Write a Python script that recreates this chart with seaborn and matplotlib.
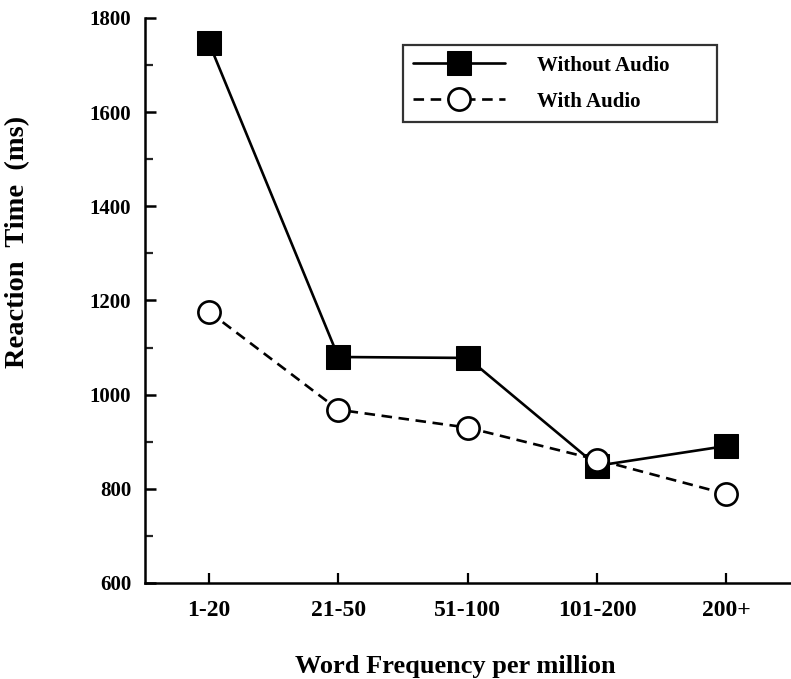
import matplotlib
matplotlib.use("Agg")
import matplotlib.pyplot as plt
import seaborn as sns
import numpy as np
import pandas as pd
from matplotlib.ticker import MultipleLocator

categories = ["1-20", "21-50", "51-100", "101-200", "200+"]
without_audio = [1747, 1080, 1078, 849, 891]
with_audio = [1176, 968, 930, 862, 789]
series_names = ["Without Audio", "With Audio"]

sns.set_theme(style="white")
plt.rcParams["font.family"] = ["Liberation Serif", "DejaVu Serif"]
plt.rcParams["font.weight"] = "bold"

pos = np.arange(len(categories))
df = pd.DataFrame({
    "pos": np.concatenate([pos, pos]),
    "rt": without_audio + with_audio,
    "series": [series_names[0]] * len(pos) + [series_names[1]] * len(pos),
})

W, H = 791, 679
fig = plt.figure(figsize=(W / 100, H / 100), dpi=100)
ax = fig.add_axes([145 / W, 96 / H, 646 / W, 565 / H])

d0 = df[df.series == series_names[0]]
d1 = df[df.series == series_names[1]]
sns.lineplot(data=d0, x="pos", y="rt", ax=ax, color="black", lw=1.9,
             marker="s", markersize=17.5, markerfacecolor="black",
             markeredgecolor="black", label=series_names[0])
sns.lineplot(data=d1, x="pos", y="rt", ax=ax, color="black", lw=1.9,
             linestyle=(0, (4, 2.5)), marker="o", markersize=16,
             markerfacecolor="white", markeredgecolor="black",
             markeredgewidth=1.9, label=series_names[1])

ax.set_xlim(-0.495, 4.5)
ax.set_ylim(600, 1800)
ax.set_xticks(pos)
ax.set_xticklabels(categories)
ax.yaxis.set_major_locator(MultipleLocator(200))
ax.yaxis.set_minor_locator(MultipleLocator(100))

for s in ["top", "right"]:
    ax.spines[s].set_visible(False)
for s in ["left", "bottom"]:
    ax.spines[s].set_linewidth(1.8)
    ax.spines[s].set_color("black")

ax.tick_params(axis="y", which="major", direction="in", length=8, width=1.8,
               labelsize=15, pad=10, left=True, colors="black")
ax.tick_params(axis="y", which="minor", direction="in", length=6, width=1.6, left=True)
ax.tick_params(axis="x", which="major", direction="in", length=7, width=1.6,
               labelsize=17, pad=12, bottom=True, colors="black")
for t in ax.get_xticklabels() + ax.get_yticklabels():
    t.set_fontweight("bold")

ax.set_xlabel("Word Frequency per million", fontsize=19, fontweight="bold")
ax.set_ylabel("Reaction  Time  (ms)", fontsize=20.5, fontweight="bold")
ax.xaxis.set_label_coords((455 - 145) / 646, -(667 - 583) / 565)
ax.yaxis.set_label_coords((18 - 145) / 646, (583 - 242) / 565)
ax.xaxis.label.set_verticalalignment("center")
ax.yaxis.label.set_verticalalignment("center")
ax.xaxis.label.set_color("black")
ax.yaxis.label.set_color("black")

lx0 = (403 - 145) / 646
lw_ = (717 - 403) / 646
ltop = (583 - 45) / 565
leg = ax.legend(loc="upper left", bbox_to_anchor=(lx0, ltop - 0.2, lw_, 0.2),
                mode="expand", frameon=True, fancybox=False, edgecolor="black",
                fontsize=15, handlelength=4.4, handletextpad=1.55, borderpad=0.5,
                labelspacing=0.7, borderaxespad=0, handleheight=0.9)
leg.get_frame().set_linewidth(1.6)
leg.get_frame().set_facecolor("white")
for t in leg.get_texts():
    t.set_fontweight("bold")
    t.set_color("black")

fig.savefig("out.png", dpi=100, facecolor="white")
